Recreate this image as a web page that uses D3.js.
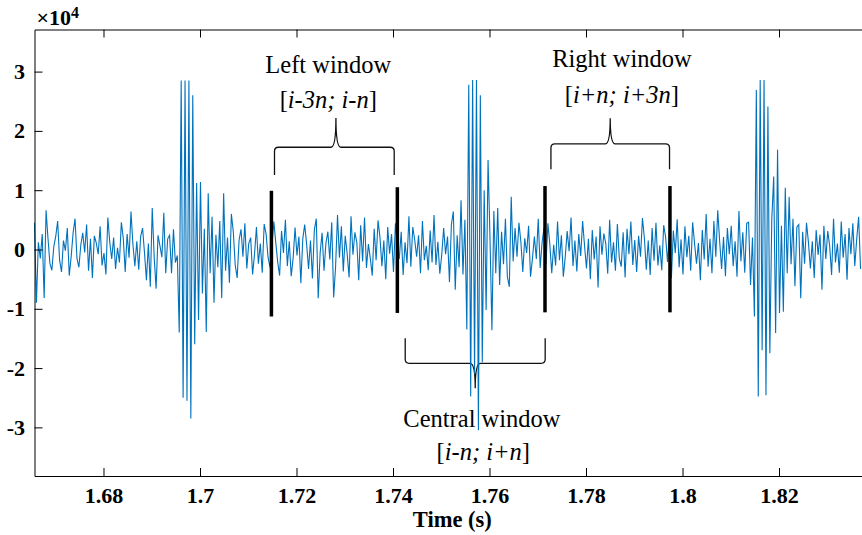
<!DOCTYPE html>
<html><head><meta charset="utf-8">
<script src="https://cdn.jsdelivr.net/npm/d3@7"></script>
<style>body{margin:0;background:#fff} svg{display:block}</style>
</head><body>
<svg id="chart" width="862" height="535"></svg>
<script>
// Recorded signal: first sample time (s), sample spacing (s), amplitudes
const startTime = 1.6657;
const sampleStep = 0.0004;
const amplitude = [
  4500, -9000, 1200, -1500, 2600, -8200, 6600, 1800, -2400, -3500,
  500, 2200, 4800, -1800, -3800, 1500, -200, 3600, -4400, -1200,
  2800, 5200, -1500, -3000, 800, 2800, -500, 4200, -3600, 1800,
  -4800, 2300, 1100, -800, 3900, -2700, -600, -4200, 5400, 1200,
  -1600, 2000, -3300, 300, -2200, 4600, 1900, -3800, 2600, -1400,
  6400, 800, -2800, 1400, -3400, 2200, 3600, -600, -5200, 1000,
  -6300, 7000, -1200, -6600, 2400, 600, -1300, 6200, -4000, 1800,
  2400, -4000, 3400, -2200, -1000, -14000, 28500, -25000, 28500, -25500,
  28500, -28500, 26000, -16000, 11200, -11900, 11400, -7400, 3500, -13900,
  9500, -4000, 5500, -9000, 2500, -3000, 4800, -8200, 9500, -3600,
  2000, -5600, 6000, 3000, -2600, -4800, 1600, 3400, -1200, 4400,
  -3200, 1000, 2000, -4200, -800, 3800, -2400, 1000, -3900, 4300,
  2600, -1300, -3000, 600, 4700, 1200, -2100, -4400, 3100, -600,
  5000, -2800, 1400, -4500, -1500, 3700, -1000, 2200, -5700, 1800,
  4200, 900, -3300, 1500, -4900, 3300, 5200, -8200, -600, 2800,
  -3600, 1100, 3000, -1700, 4600, -8100, -2900, 5800, -1400, 3900,
  -3700, 2300, -700, -4700, 5600, -900, 2900, 1200, -5200, 4100,
  -2000, 5400, -3100, 900, -1500, -4400, 3500, -1800, 4900, 2000,
  -2800, 1500, -5000, 3800, -700, 2600, -3800, 4400, 800, -1600,
  3000, -4300, 1200, -2300, 5600, -2900, 3800, 1600, -1200, 2400,
  -4000, 4800, -1800, 600, -3500, 3200, -2200, 5800, -2600, 1300,
  -4100, -900, 3600, -800, 2200, -5500, 4200, 6400, -6800, 2400,
  -3000, 8300, -4200, 5000, -13500, 27800, -24800, 28600, -21000, 28600,
  -30500, 26000, -19000, 10000, -10200, 15100, 2000, -13600, 6500, -4000,
  7000, -6000, 3000, -2500, 5200, -4600, -6300, 8900, -2000, 3600,
  -1200, 4500, 1300, -3800, 1900, -600, 4000, -4600, -1500, 2200,
  -1600, 5200, -3100, 1200, 3600, -2500, 4400, 900, -4000, 800,
  -2700, 4700, -1800, 2400, -4600, -1200, 3100, -300, 5400, -2800,
  1500, -3700, 2600, -1100, 4800, 600, -3200, 1800, -5000, 3300,
  -1700, 2200, -6400, 3900, -900, 2700, 1000, -4100, 5000, -2200,
  1200, -3600, 4300, -1500, -2900, 2900, -4700, 3500, -800, 4700,
  -2600, 1600, -3800, 2300, -1200, 5300, 1900, -3400, 1500, -4300,
  3600, -1900, 4500, -2700, 700, -3500, 4100, 2100, -2100, 2800,
  -4800, 3200, -600, 5100, -3000, 1700, -4200, 3900, -1300, 2300,
  -3600, 4600, 1000, -2400, 1100, -5200, 3300, -1700, 6000, -2900,
  1800, -4000, 4800, -1200, 6600, 1400, -3300, 2100, -4500, 3600,
  -800, 4000, -2800, 1400, -4600, 6500, -2000, 2900, -3900, 4400,
  4600, -6000, 2000, -11300, 26900, -24800, 28600, -17000, 28600, -24600,
  24100, -17500, 5000, 12300, -14100, 16800, -10700, 4000, -10500, 10400,
  -4000, 8900, -2500, 5200, -6200, 3800, 4200, -8200, 3000, -2400,
  4500, 1200, -3200, 1400, -4800, 3300, -900, 2500, -6800, 4000,
  -1600, 3100, 600, -4300, 5200, -2200, 1000, -3900, 4700, -1400,
  2600, -5100, 3600, -800, 4400, -2800, 1700, 5500, -3300
];

// Axis ticks
const xTickValues = [1.68, 1.70, 1.72, 1.74, 1.76, 1.78, 1.80, 1.82];
const xTickLabels = ["1.68", "1.7", "1.72", "1.74", "1.76", "1.78", "1.8", "1.82"];
const yTickValues = [-30000, -20000, -10000, 0, 10000, 20000, 30000];
const yTickLabels = ["-3", "-2", "-1", "0", "1", "2", "3"];

// Window boundary markers (time, lower and upper amplitude)
const markerTimes = [1.7148, 1.7409, 1.7715, 1.7974];
const markerLow = [-11300, -10700, -10600, -10600];
const markerHigh = [9900, 10500, 10700, 10700];

// Window annotations
const windowNames = ["Left window", "Central window", "Right window"];
const windowRanges = ["i-3n; i-n", "i-n; i+n", "i+n; i+3n"];

const serif = "'Liberation Serif','Times New Roman',Times,serif";
const svg = d3.select("#chart");
const plot = {left: 34.5, right: 862, top: 29.5, bottom: 476};

const x = d3.scaleLinear().domain([1.6657, 1.8372]).range([plot.left, plot.right]);
const y = d3.scaleLinear().domain([-38200, 37100]).range([plot.bottom, plot.top]);

// Braces: legs at x1/x2, bar level yH, leg ends yLeg, tip at (xc, yTip)
const braceLayout = [
  {x1: 1.71544, x2: 1.74025, xc: 1.72817, yH: 17240, yLeg: 12570, yTip: 22190,
   nameAt: [1.72659, 29780], rangeAt: [1.72659, 23870]},
  {x1: 1.74253, x2: 1.77154, xc: 1.75704, yH: -19200, yLeg: -14980, yTip: -23420,
   nameAt: [1.75843, -30000], rangeAt: [1.7587, -35520]},
  {x1: 1.77273, x2: 1.79731, xc: 1.78502, yH: 17800, yLeg: 13530, yTip: 22140,
   nameAt: [1.78744, 30840], rangeAt: [1.78744, 24770]}
];

function bracePath(b) {
  const x1 = x(b.x1), x2 = x(b.x2), xc = x(b.xc);
  const yH = y(b.yH), yL = y(b.yLeg), yT = y(b.yTip);
  const s = Math.sign(yL - yH);     // direction of the legs
  const r = 4, w = 5;
  return `M${x1},${yL} L${x1},${yH + s * r} Q${x1},${yH} ${x1 + r},${yH}` +
         ` L${xc - w},${yH} Q${xc},${yH} ${xc},${yT}` +
         ` Q${xc},${yH} ${xc + w},${yH} L${x2 - r},${yH}` +
         ` Q${x2},${yH} ${x2},${yH + s * r} L${x2},${yL}`;
}

const annot = svg.append("g");
annot.selectAll("path.brace").data(braceLayout).join("path")
  .attr("class", "brace")
  .attr("d", bracePath)
  .attr("fill", "none").attr("stroke", "#111").attr("stroke-width", 1.3);

annot.selectAll("text.wname").data(braceLayout).join("text")
  .attr("class", "wname")
  .attr("x", d => x(d.nameAt[0])).attr("y", d => y(d.nameAt[1]))
  .attr("text-anchor", "middle")
  .attr("font-family", serif).attr("font-size", 24.5).attr("fill", "#000")
  .text((d, i) => windowNames[i]);

const ranges = annot.selectAll("text.wrange").data(braceLayout).join("text")
  .attr("class", "wrange")
  .attr("x", d => x(d.rangeAt[0])).attr("y", d => y(d.rangeAt[1]))
  .attr("text-anchor", "middle")
  .attr("font-family", serif).attr("font-size", 24.5).attr("fill", "#000");
ranges.append("tspan").text("[");
ranges.append("tspan").attr("font-style", "italic").text((d, i) => windowRanges[i]);
ranges.append("tspan").text("]");

// Signal trace
const line = d3.line()
  .x((d, i) => x(startTime + i * sampleStep))
  .y(d => y(d));
svg.append("path")
  .datum(amplitude)
  .attr("d", line)
  .attr("fill", "none")
  .attr("stroke", "#0072BD")
  .attr("stroke-width", 1.1)
  .attr("stroke-linejoin", "miter");

// Window boundary bars
svg.append("g").selectAll("line").data(markerTimes).join("line")
  .attr("x1", d => x(d)).attr("x2", d => x(d))
  .attr("y1", (d, i) => y(markerLow[i])).attr("y2", (d, i) => y(markerHigh[i]))
  .attr("stroke", "#000").attr("stroke-width", 3.5);

// Axes (inward ticks, box on top)
function styleAxis(g) {
  g.select(".domain").attr("stroke", "#000").attr("stroke-width", 1);
  g.selectAll(".tick line").attr("stroke", "#000").attr("stroke-width", 1);
  g.selectAll(".tick text")
    .attr("font-family", serif).attr("font-weight", "bold")
    .attr("font-size", 22).attr("fill", "#000");
}

svg.append("g")
  .attr("transform", `translate(0,${plot.bottom})`)
  .call(d3.axisBottom(x).tickValues(xTickValues)
    .tickFormat((d, i) => xTickLabels[i])
    .tickSizeInner(-8).tickSizeOuter(0).tickPadding(11))
  .call(styleAxis);

svg.append("g")
  .attr("transform", `translate(0,${plot.top})`)
  .call(d3.axisTop(x).tickValues(xTickValues).tickFormat("")
    .tickSizeInner(-8).tickSizeOuter(0))
  .call(styleAxis);

svg.append("g")
  .attr("transform", `translate(${plot.left},0)`)
  .call(d3.axisLeft(y).tickValues(yTickValues)
    .tickFormat((d, i) => yTickLabels[i])
    .tickSizeInner(-8).tickSizeOuter(0).tickPadding(9.5))
  .call(styleAxis);

// Exponent label
const expo = svg.append("text")
  .attr("x", 36.5).attr("y", 25)
  .attr("font-family", serif).attr("font-weight", "bold")
  .attr("font-size", 22).attr("fill", "#000");
expo.append("tspan").text("\u00d710");
expo.append("tspan").attr("font-size", 16).attr("dy", -7).text("4");

// Axis title
svg.append("text")
  .attr("x", x(1.7523)).attr("y", 527)
  .attr("text-anchor", "middle")
  .attr("font-family", serif).attr("font-weight", "bold")
  .attr("font-size", 22.5).attr("fill", "#000")
  .text("Time (s)");
</script>
</body></html>
